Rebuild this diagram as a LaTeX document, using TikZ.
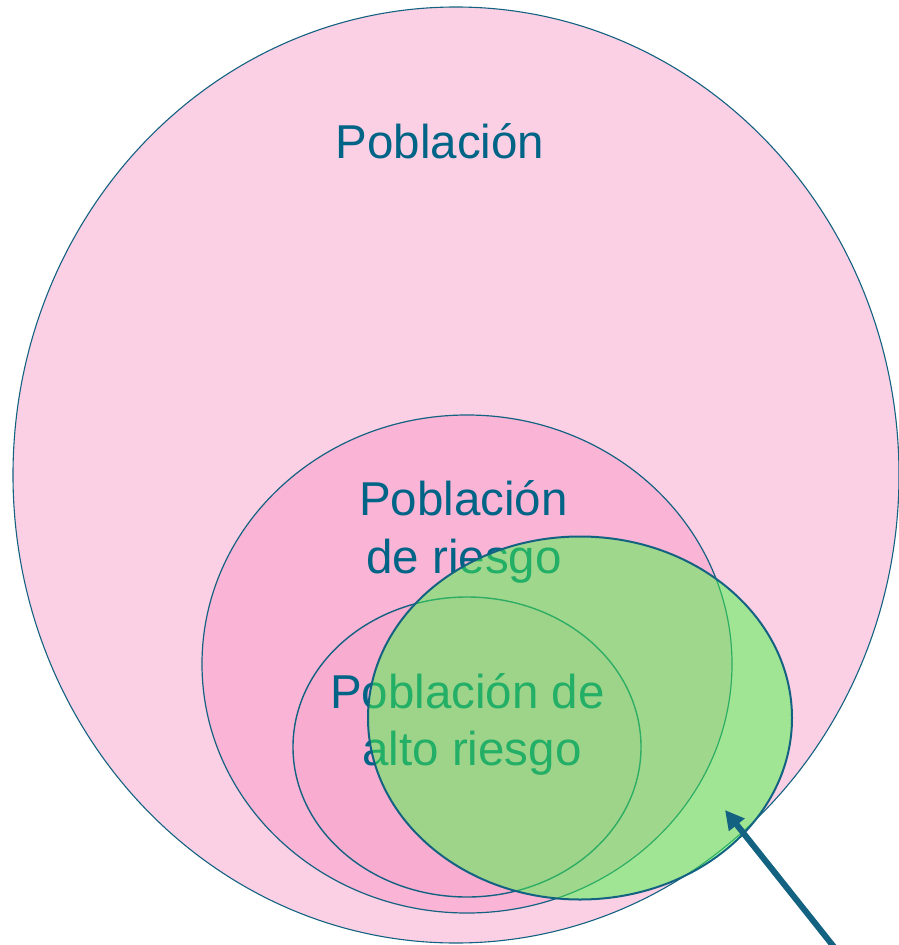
\documentclass[tikz,border=0pt]{standalone}
\usepackage{fontspec}
\setmainfont{Liberation Sans}
\usetikzlibrary{shapes.geometric,arrows.meta}
\definecolor{tealline}{RGB}{20,98,130}
\definecolor{tealtext}{RGB}{0,100,135}
\definecolor{pinkA}{RGB}{252,208,228}
\definecolor{pinkB}{RGB}{250,180,214}
\definecolor{pinkC}{RGB}{248,172,208}
\definecolor{greenF}{RGB}{70,250,70}
\tikzset{
  set/.style={ellipse, draw=tealline, inner sep=0pt, outer sep=0pt},
  lbl/.style={text=tealtext, font=\fontsize{47.5bp}{58bp}\selectfont, anchor=base, inner sep=0pt},
}
\begin{document}
\begin{tikzpicture}[x=1bp,y=-1bp]
\useasboundingbox (0,0) rectangle (899,945);
\node[set, fill=pinkA, line width=1.1bp, minimum width=886bp, minimum height=936bp] (pob) at (456,475) {};
\node[set, fill=pinkB, line width=1.2bp, minimum width=530bp, minimum height=498bp] (riesgo) at (467,664) {};
\node[set, fill=pinkC, line width=1.4bp, minimum width=348bp, minimum height=300bp] (alto) at (467,747) {};
\node[lbl] (t1) at (440,158) {Población};
\node[lbl] (t2a) at (463.5,515) {Población};
\node[lbl] (t2b) at (464,573) {de riesgo};
\node[lbl] (t3a) at (467.5,708) {Población de};
\node[lbl] (t3b) at (472,765) {alto riesgo};
\node[set, fill=greenF, fill opacity=0.5, line width=2bp, minimum width=424bp, minimum height=363bp] (verde) at (580,718) {};
\coordinate (tail) at (838,952);
\coordinate (tip) at (725,810);
\draw[tealline, line width=6bp, -{Triangle[length=19bp,width=19bp]}] (tail) -- (tip);
\end{tikzpicture}
\end{document}
